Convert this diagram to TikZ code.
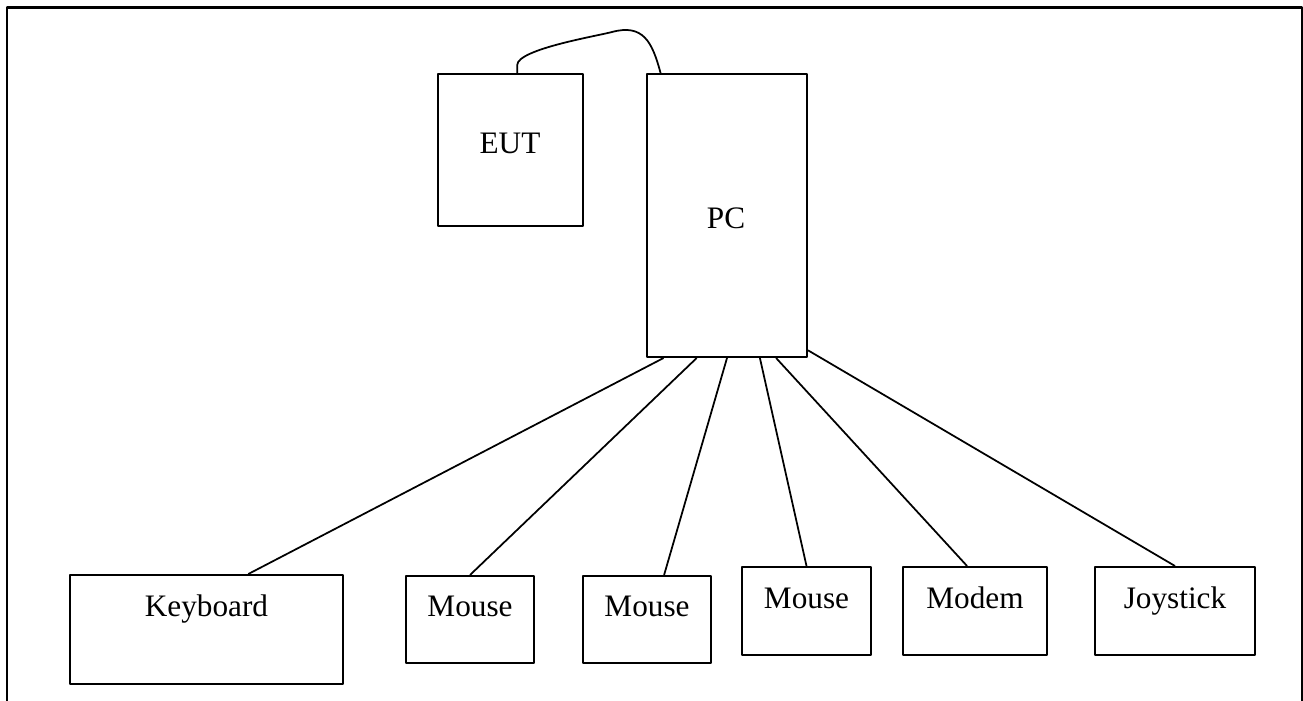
\documentclass[tikz,border=0pt]{standalone}
\usepackage{fontspec}
\setmainfont{Liberation Serif}

\tikzset{
  box/.style={draw, line width=0.8pt, inner sep=0pt},
  lbl/.style={anchor=base, inner sep=0pt, font=\fontsize{12.5}{15}\selectfont},
  wire/.style={line width=0.7pt}
}

\begin{document}
\begin{tikzpicture}[line join=bevel, x=0.4pt, y=0.4pt]
  \useasboundingbox (0,0) rectangle (1303,700);
  \clip (0,0) rectangle (1303,700);

  % frame, open at the bottom
  \draw[line width=1pt] (7,-20) -- (7,692.7) -- (1302,692.7) -- (1302,-20);

  % units
  \node[box, minimum width=58pt, minimum height=60.8pt] (eut) at (510.5,550) {};
  \node[box, minimum width=64pt, minimum height=113.2pt] (pc) at (727,484.5) {};

  \node[box, minimum width=109.2pt, minimum height=43.6pt] (kbd) at (206.5,70.5) {};
  \node[box, minimum width=51.2pt, minimum height=34.8pt] (mouseA) at (470,80.5) {};
  \node[box, minimum width=51.2pt, minimum height=34.8pt] (mouseB) at (647,80.5) {};
  \node[box, minimum width=51.6pt, minimum height=35.2pt] (mouseC) at (806.5,89) {};
  \node[box, minimum width=57.6pt, minimum height=35.2pt] (modem) at (975,89) {};
  \node[box, minimum width=64pt, minimum height=35.2pt] (joy) at (1175,89) {};

  % texts
  \node[lbl] (euttxt) at (510,546.7) {EUT};
  \node[lbl] (pctxt) at (726,471.7) {PC};
  \node[lbl] (kbdtxt) at (206.5,83.3) {Keyboard};
  \node[lbl] (mouseAtxt) at (470,83.3) {Mouse};
  \node[lbl] (mouseBtxt) at (647,83.3) {Mouse};
  \node[lbl] (mouseCtxt) at (806.5,91.7) {Mouse};
  \node[lbl] (modemtxt) at (975,91.7) {Modem};
  \node[lbl] (joytxt) at (1175,91.7) {Joystick};

  % cable from the EUT to the PC
  \draw[wire] (eut.85) -- ++(0,8) to[out=90,in=195,looseness=0.4] (612,668)
    to[out=15,in=105,looseness=1.3] (pc.115);

  % cables from the PC
  \draw[wire] (pc.-114.3) -- (kbd.53.4);
  \draw[wire] (pc.-102.7) -- (mouseA.north);
  \draw[wire] (pc.south) -- (mouseB.69.8);
  \draw[wire] (pc.-77.3) -- (mouseC.north);
  \draw[wire] (pc.-71.6) -- (modem.100.3);
  \draw[wire] (pc.-59.4) -- (joy.north);

\end{tikzpicture}
\end{document}
